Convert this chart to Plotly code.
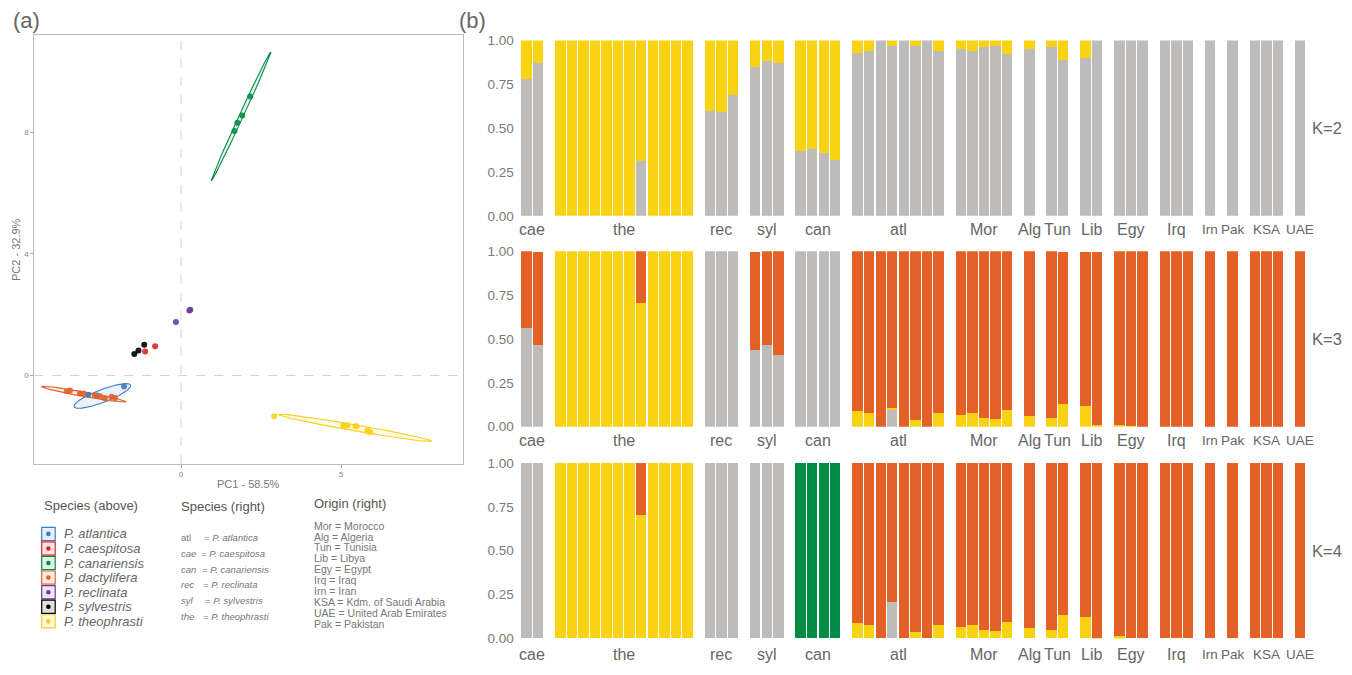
import numpy as np
import plotly.graph_objects as go

# The browser keeps its default 8px page margin; the photographed page is squeezed vertically
# by 675/691, so rows are placed on a slightly stretched grid to land where the reference has them.
OFF = 8
FW, FH = 1336, 659
SY = 675 / 691
PB_SQUEEZE = 0.98   # panel (b) is pulled up a little so its bottom labels stay inside the picture
FONT = "Liberation Sans, Arial, sans-serif"

# ---------------- Panel (a): PCA data ----------------
species = ["P. atlantica", "P. caespitosa", "P. canariensis", "P. dactylifera",
           "P. reclinata", "P. sylvestris", "P. theophrasti"]
species_colors = ["#3A7DC4", "#E2231F", "#068C47", "#E2622B", "#6B3C9B", "#000000", "#F7D11A"]

pc1_atlantica = [-2.62, -2.90, -1.78]
pc2_atlantica = [-0.66, -0.63, -0.36]
pc1_caespitosa = [-1.12, -0.81]
pc2_caespitosa = [0.79, 0.96]
pc1_canariensis = [1.67, 1.76, 1.91, 2.16]
pc2_canariensis = [8.04, 8.31, 8.55, 9.17]
pc1_dactylifera = [-3.57, -3.47, -3.16, -3.05, -2.69, -2.53, -2.38, -2.17, -2.06]
pc2_dactylifera = [-0.52, -0.49, -0.59, -0.59, -0.66, -0.68, -0.75, -0.70, -0.74]
pc1_reclinata = [-0.16, 0.26, 0.29]
pc2_reclinata = [1.76, 2.14, 2.16]
pc1_sylvestris = [-1.46, -1.33, -1.15]
pc2_sylvestris = [0.71, 0.82, 1.01]
pc1_theophrasti = [2.91, 5.07, 5.12, 5.20, 5.45, 5.48, 5.82, 5.85, 5.91]
pc2_theophrasti = [-1.34, -1.65, -1.64, -1.64, -1.67, -1.67, -1.81, -1.83, -1.86]

# confidence ellipses (centre, semi-axes, angle in degrees)
ell_species = ["P. atlantica", "P. canariensis", "P. dactylifera", "P. theophrasti"]
ell_cx = [-2.46, 1.875, -3.04, 5.44]
ell_cy = [-0.674, 8.52, -0.614, -1.722]
ell_a = [0.955, 2.306, 1.34, 2.437]
ell_b = [0.21, 0.065, 0.075, 0.10]
ell_deg = [21.9, 66.3, -10.8, -10.4]

# ---------------- Panel (b): admixture data ----------------
groups = ["cae", "the", "rec", "syl", "can", "atl", "Mor", "Alg", "Tun", "Lib",
          "Egy", "Irq", "Irn", "Pak", "KSA", "UAE"]
group_sizes = [2, 12, 3, 3, 4, 8, 5, 1, 2, 2, 3, 3, 1, 1, 3, 1]
small_label_groups = ["Irn", "Pak", "KSA", "UAE"]
k_labels = ["K=2", "K=3", "K=4"]

k2_grey = [0.78, 0.87,
           0, 0, 0, 0, 0, 0, 0, 0.31, 0, 0, 0, 0,
           0.60, 0.59, 0.69,
           0.85, 0.88, 0.87,
           0.37, 0.38, 0.36, 0.32,
           0.93, 0.94, 1.00, 0.97, 1.00, 0.97, 1.00, 0.94,
           0.95, 0.94, 0.96, 0.97, 0.92,
           0.95,
           0.96, 0.89,
           0.90, 1.00,
           1, 1, 1,
           1, 1, 1,
           1, 1,
           1, 1, 1,
           1]
k2_yellow = [0.22, 0.13,
             1, 1, 1, 1, 1, 1, 1, 0.69, 1, 1, 1, 1,
             0.40, 0.41, 0.31,
             0.15, 0.12, 0.13,
             0.63, 0.62, 0.64, 0.68,
             0.07, 0.06, 0, 0.03, 0, 0.03, 0, 0.06,
             0.05, 0.06, 0.04, 0.03, 0.08,
             0.05,
             0.04, 0.11,
             0.10, 0,
             0, 0, 0,
             0, 0, 0,
             0, 0,
             0, 0, 0,
             0]

k3_grey = [0.56, 0.465,
           0, 0, 0, 0, 0, 0, 0, 0, 0, 0, 0, 0,
           1, 1, 1,
           0.435, 0.465, 0.41,
           1, 1, 1, 1,
           0, 0, 0, 0.095, 0, 0, 0, 0,
           0, 0, 0, 0, 0,
           0,
           0, 0,
           0, 0,
           0, 0, 0,
           0, 0, 0,
           0, 0,
           0, 0, 0,
           0]
k3_yellow = [0, 0,
             1, 1, 1, 1, 1, 1, 1, 0.705, 1, 1, 1, 1,
             0, 0, 0,
             0, 0, 0,
             0, 0, 0, 0,
             0.09, 0.08, 0, 0.011, 0, 0.04, 0, 0.08,
             0.067, 0.078, 0.05, 0.045, 0.095,
             0.062,
             0.05, 0.13,
             0.118, 0.011,
             0.009, 0.005, 0,
             0, 0, 0,
             0, 0,
             0, 0, 0,
             0]
k3_orange = [0.44, 0.53,
             0, 0, 0, 0, 0, 0, 0, 0.295, 0, 0, 0, 0,
             0, 0, 0,
             0.56, 0.535, 0.59,
             0, 0, 0, 0,
             0.91, 0.92, 1, 0.894, 1, 0.96, 1, 0.92,
             0.933, 0.922, 0.95, 0.955, 0.905,
             0.938,
             0.95, 0.865,
             0.877, 0.984,
             0.991, 0.995, 1,
             1, 1, 1,
             1, 1,
             1, 1, 1,
             1]

k4_grey = [1, 1,
           0, 0, 0, 0, 0, 0, 0, 0, 0, 0, 0, 0,
           1, 1, 1,
           1, 1, 1,
           0, 0, 0, 0,
           0, 0, 0, 0.205, 0, 0, 0, 0,
           0, 0, 0, 0, 0,
           0,
           0, 0,
           0, 0,
           0, 0, 0,
           0, 0, 0,
           0, 0,
           0, 0, 0,
           0]
k4_yellow = [0, 0,
             1, 1, 1, 1, 1, 1, 1, 0.705, 1, 1, 1, 1,
             0, 0, 0,
             0, 0, 0,
             0, 0, 0, 0,
             0.09, 0.078, 0, 0, 0, 0.039, 0, 0.078,
             0.067, 0.078, 0.05, 0.045, 0.095,
             0.061,
             0.05, 0.134,
             0.123, 0.005,
             0.011, 0, 0,
             0, 0, 0,
             0, 0,
             0, 0, 0,
             0]
k4_orange = [0, 0,
             0, 0, 0, 0, 0, 0, 0, 0.295, 0, 0, 0, 0,
             0, 0, 0,
             0, 0, 0,
             0, 0, 0, 0,
             0.91, 0.922, 1, 0.795, 1, 0.961, 1, 0.922,
             0.933, 0.922, 0.95, 0.955, 0.905,
             0.939,
             0.95, 0.866,
             0.877, 0.995,
             0.989, 1, 1,
             1, 1, 1,
             1, 1,
             1, 1, 1,
             1]
k4_green = [0, 0,
            0, 0, 0, 0, 0, 0, 0, 0, 0, 0, 0, 0,
            0, 0, 0,
            0, 0, 0,
            1, 1, 1, 1,
            0, 0, 0, 0, 0, 0, 0, 0,
            0, 0, 0, 0, 0,
            0,
            0, 0,
            0, 0,
            0, 0, 0,
            0, 0, 0,
            0, 0,
            0, 0, 0,
            0]

# legend texts
abbr = ["atl", "cae", "can", "rec", "syl", "the"]
abbr_full = ["P. atlantica", "P. caespitosa", "P. canariensis", "P. reclinata",
             "P. sylvestris", "P. theophrasti"]
abbr_italic = [False, True, True, True, True, True]
origin_lines = ["Mor = Morocco", "Alg = Algeria", "Tun = Tunisia", "Lib = Libya",
                "Egy = Egypt", "Irq = Iraq", "Irn = Iran",
                "KSA = Kdm. of Saudi Arabia", "UAE = United Arab Emirates",
                "Pak = Pakistan"]

# ---------------- colours / layout constants ----------------
C_GREY = "#BDBCBA"
C_YEL = "#F9D313"
C_ORA = "#E36027"
C_GRN = "#038C45"
TXT = "#666666"


def fx(px):
    """target picture column -> paper x"""
    return (px - OFF) / FW


def fy(py):
    """target picture row -> paper y"""
    return 1 - (py / SY - 2 * OFF) / FH


def by(py):
    """target picture row for panel (b), slightly squeezed towards its top"""
    return fy(41 + (py - 41) * PB_SQUEEZE)


def rgba(hexc, a):
    h = hexc.lstrip("#")
    r, g, b = int(h[0:2], 16), int(h[2:4], 16), int(h[4:6], 16)
    return f"rgba({r},{g},{b},{a})"


fig = go.Figure()

# ---------- panel (a) ----------
color_of = dict(zip(species, species_colors))
for sp, cx, cy, a, b, deg in zip(ell_species, ell_cx, ell_cy, ell_a, ell_b, ell_deg):
    t = np.linspace(0, 2 * np.pi, 200)
    th = np.deg2rad(deg)
    ex = cx + a * np.cos(th) * np.cos(t) - b * np.sin(th) * np.sin(t)
    ey = cy + a * np.sin(th) * np.cos(t) + b * np.cos(th) * np.sin(t)
    col = color_of[sp]
    fig.add_trace(go.Scatter(x=ex, y=ey, mode="lines", fill="toself",
                             fillcolor=rgba(col, 0.1), line=dict(color=col, width=1.1),
                             showlegend=False, hoverinfo="skip", xaxis="x", yaxis="y"))

pts = [
    (pc1_atlantica, pc2_atlantica, "P. atlantica"),
    (pc1_caespitosa, pc2_caespitosa, "P. caespitosa"),
    (pc1_canariensis, pc2_canariensis, "P. canariensis"),
    (pc1_dactylifera, pc2_dactylifera, "P. dactylifera"),
    (pc1_reclinata, pc2_reclinata, "P. reclinata"),
    (pc1_sylvestris, pc2_sylvestris, "P. sylvestris"),
    (pc1_theophrasti, pc2_theophrasti, "P. theophrasti"),
]
for xs, ys, sp in pts:
    fig.add_trace(go.Scatter(x=xs, y=ys, mode="markers",
                             marker=dict(color=color_of[sp], size=6, opacity=0.9, line=dict(width=0)),
                             name=sp, showlegend=False, xaxis="x", yaxis="y"))

# ---------- panel (b) ----------
GAP = 0.93
xpos = []
centers = []
k = 0
for gi, n in enumerate(group_sizes):
    start = k + gi * GAP
    for j in range(n):
        xpos.append(start + j)
    centers.append(start + (n - 1) / 2)
    k += n
xmax = xpos[-1] + 0.5

rows = [
    [(k2_grey, C_GREY), (k2_yellow, C_YEL)],
    [(k3_grey, C_GREY), (k3_yellow, C_YEL), (k3_orange, C_ORA)],
    [(k4_grey, C_GREY), (k4_yellow, C_YEL), (k4_orange, C_ORA), (k4_green, C_GRN)],
]
for i, comps in enumerate(rows):
    ax_id = str(i + 2)
    for vals, col in comps:
        fig.add_trace(go.Bar(x=xpos, y=vals, width=0.9, marker=dict(color=col, line=dict(width=0)),
                             showlegend=False, xaxis="x" + ax_id, yaxis="y" + ax_id,
                             hoverinfo="skip"))

row_px = [(41, 220), (256, 435), (472, 651)]
label_py = [234, 449, 667]

layout = dict(
    width=FW, height=FH, margin=dict(l=0, r=0, t=0, b=0, pad=0), autosize=False,
    paper_bgcolor="white", plot_bgcolor="white",
    barmode="stack", showlegend=False,
    font=dict(family=FONT, color=TXT),
    xaxis=dict(domain=[fx(34.3), fx(462.7)], range=[-4.585, 8.80], tickvals=[0, 5],
               ticks="outside", ticklen=3, tickcolor="#aaaaaa",
               tickfont=dict(size=8, color="#888888"), showgrid=False, zeroline=False,
               showline=True, mirror=True, linecolor="#bbbbbb", linewidth=1, anchor="y"),
    yaxis=dict(domain=[fy(464.3), fy(36)], range=[-2.905, 11.18], tickvals=[0, 4, 8],
               ticks="outside", ticklen=3, tickcolor="#aaaaaa",
               tickfont=dict(size=8, color="#888888"), showgrid=False, zeroline=False,
               showline=True, mirror=True, linecolor="#bbbbbb", linewidth=1, anchor="x"),
)
for i, (top, bot) in enumerate(row_px):
    n = str(i + 2)
    layout["xaxis" + n] = dict(domain=[fx(520.7), fx(1306)], range=[-0.5, xmax],
                               showticklabels=False, showgrid=False, zeroline=False,
                               showline=False, ticks="", anchor="y" + n)
    layout["yaxis" + n] = dict(domain=[by(bot), by(top)], range=[0, 1],
                               tickvals=[0, 0.25, 0.5, 0.75, 1.0],
                               ticktext=["0.00", "0.25", "0.50", "0.75", "1.00"],
                               tickfont=dict(size=13.5, color="#7a7a7a"),
                               ticks="", ticklabelstandoff=6,
                               showgrid=False, zeroline=False, showline=False, anchor="x" + n)
fig.update_layout(**layout)

shapes = []
ann = []


def note(text, px, py, size, color=TXT, xanchor="center", angle=0, xref="paper", yconv=fy):
    ann.append(dict(text=text, x=(px if xref != "paper" else fx(px)), y=yconv(py),
                    xref=xref, yref="paper", xanchor=xanchor, yanchor="middle",
                    showarrow=False, textangle=angle, font=dict(size=size, color=color)))


# dashed reference lines in panel (a)
shapes.append(dict(type="line", xref="x", yref="y domain", x0=0, x1=0, y0=0, y1=1,
                   line=dict(color="#d2d2d2", width=1, dash="dash"), layer="below"))
shapes.append(dict(type="line", xref="x domain", yref="y", x0=0, x1=1, y0=0, y1=0,
                   line=dict(color="#d2d2d2", width=1, dash="dash"), layer="below"))

# panel letters
note("(a)", 11, 21, 22, xanchor="left")
note("(b)", 457, 21, 22, xanchor="left")
# axis titles panel (a)
note("PC1 - 58.5%", 248.5, 484, 11, color="#777777")
note("PC2 - 32.9%", 16.5, 250, 11, color="#777777", angle=-90)

# group labels & K labels
for r in range(3):
    for g, c in zip(groups, centers):
        size = 13.5 if g in small_label_groups else 16
        note(g, c, label_py[r], size, xref="x2", yconv=by)
    note(k_labels[r], 1327, (row_px[r][0] + row_px[r][1]) / 2, 16.5, yconv=by)

# legend: Species (above)
note("Species (above)", 41.5, 506, 13, color="#555555", xanchor="left")
for i, (sp, col) in enumerate(zip(species, species_colors)):
    yc = 534.3 + i * 14.57
    shapes.append(dict(type="rect", xref="paper", yref="paper", x0=fx(41.7), x1=fx(55.2),
                       y0=fy(yc + 6.6), y1=fy(yc - 6.6), line=dict(color=col, width=1.2),
                       fillcolor=rgba(col, 0.12)))
    shapes.append(dict(type="circle", xref="paper", yref="paper", x0=fx(46.1), x1=fx(50.7),
                       y0=fy(yc + 2.3), y1=fy(yc - 2.3), line=dict(width=0), fillcolor=col))
    note("<i>" + sp + "</i>", 62, yc, 13, xanchor="left")

# legend: Species (right)
eq_px = [202.3, 199.0, 200.0, 200.7, 203.3, 201.0]
note("Species (right)", 179, 507, 13, color="#555555", xanchor="left")
for i, (ab, full, it) in enumerate(zip(abbr, abbr_full, abbr_italic)):
    yc = 538.3 + i * 15.68
    ab_txt = "<i>" + ab + "</i>" if it else ab
    note(ab_txt, 179, yc, 9.5, color="#777777", xanchor="left")
    note("= <i>" + full + "</i>", eq_px[i], yc, 9.5, color="#777777", xanchor="left")

# legend: Origin (right)
note("Origin (right)", 311.5, 504, 13, color="#555555", xanchor="left")
for i, line in enumerate(origin_lines):
    note(line, 311.5, 526 + i * 10.92, 10.5, color="#777777", xanchor="left")

fig.update_layout(shapes=shapes, annotations=ann)

# let text that sits just outside the figure box stay visible
show_js = ("var gd=document.getElementById('{plot_id}');"
           "if(gd){gd.querySelectorAll('svg').forEach(function(s){s.style.overflow='visible';});}")
fig.write_html("out.html", post_script=show_js, config={"displayModeBar": False})
